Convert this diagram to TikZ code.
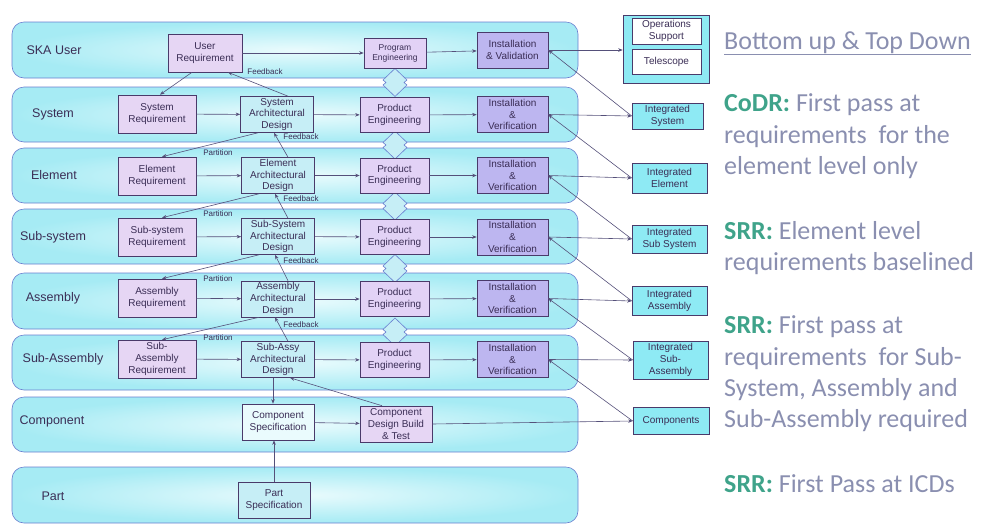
\documentclass[tikz,border=0pt]{standalone}
\usepackage{fontspec}
\setmainfont{Liberation Sans}
\newfontfamily\calfont{Carlito}
\usetikzlibrary{arrows.meta,shapes.geometric}
\definecolor{laneout}{HTML}{A6EBF4}
\definecolor{lanein}{HTML}{EAFBFD}
\definecolor{laneline}{HTML}{6A7FD0}
\definecolor{boxline}{HTML}{4A3A6A}
\definecolor{reqfill}{HTML}{E6D6F4}
\definecolor{archfill}{HTML}{C6EEF6}
\definecolor{pefill}{HTML}{E2D2F6}
\definecolor{ivfill}{HTML}{BDB6F0}
\definecolor{intfill}{HTML}{8EEAF4}
\definecolor{txt}{HTML}{3A2D55}
\definecolor{conn}{HTML}{55507A}
\definecolor{rtxt}{HTML}{8A8FB0}
\definecolor{rbold}{HTML}{3FA38A}
\begin{document}
\begin{tikzpicture}[x=1pt,y=-1pt,
  lane/.style={shading=radial,inner color=lanein,outer color=laneout,draw=laneline,line width=0.6pt,rounded corners=12pt},
  lanelabel/.style={font=\fontsize{12.5}{14}\selectfont,text=txt},
  bx/.style={draw=boxline,line width=0.6pt,align=center,text=txt,inner sep=1pt,
     font=\fontsize{10}{11.8}\selectfont},
  reqbox/.style={bx,fill=reqfill,minimum width=78pt,minimum height=38pt},
  archbox/.style={bx,fill=archfill,minimum width=73pt,minimum height=36pt},
  pebox/.style={bx,fill=pefill,minimum width=69pt,minimum height=35pt},
  ivbox/.style={bx,fill=ivfill,minimum width=71pt,minimum height=36pt},
  intbox/.style={bx,fill=intfill,minimum width=75pt},
  smalllabel/.style={font=\fontsize{8}{9}\selectfont,text=txt,inner sep=0pt},
  conline/.style={draw=conn,line width=0.6pt,-{Stealth[length=4.5pt,width=3.5pt]}},
  dia/.style={fill=archfill,draw=laneline,line width=0.6pt},
  rt/.style={anchor=base west,inner sep=0pt,font=\calfont\fontsize{26}{31}\selectfont,text=rtxt}
]
\useasboundingbox (0,0) rectangle (997,531);
% lanes
\shadedraw[lane] (12,22) rectangle (578,78);
\shadedraw[lane] (12,87) rectangle (578,142);
\shadedraw[lane] (12,148) rectangle (578,203);
\shadedraw[lane] (12,209) rectangle (578,264);
\shadedraw[lane] (12,273) rectangle (578,329);
\shadedraw[lane] (12,335) rectangle (578,390);
\shadedraw[lane] (12,397) rectangle (578,452);
\shadedraw[lane] (12,467) rectangle (578,523);
% lane labels
\node[lanelabel] (l1) at (54,50) {SKA User};
\node[lanelabel] (l2) at (53,114) {System};
\node[lanelabel] (l3) at (54,175) {Element};
\node[lanelabel] (l4) at (53,237) {Sub-system};
\node[lanelabel] (l5) at (53,298) {Assembly};
\node[lanelabel] (l6) at (63,359) {Sub-Assembly};
\node[lanelabel] (l7) at (52,421) {Component};
\node[lanelabel] (l8) at (53,496) {Part};
% diamonds
\foreach \yy in {82.5,145,206,268.5,332}{
  \draw[dia] (395,\yy) +(0,-14) -- +(12,-2.5) -- +(9,0) -- +(12,2.5) -- +(0,14) -- +(-12,2.5) -- +(-9,0) -- +(-12,-2.5) -- cycle;
}
% SKA row
\node[reqbox,minimum width=74pt] (ur) at (205,53) {User\\Requirement};
\node[pebox,minimum width=62pt,minimum height=30pt,font=\fontsize{8.5}{10}\selectfont] (pg) at (395,53) {Program\\Engineering};
\node[ivbox] (iv1) at (512.5,50) {Installation\\\& Validation};
% rows 2-6
\node[reqbox] (r2) at (157,114) {System\\Requirement};
\node[archbox] (a2) at (277,114.5) {System\\Architectural\\Design};
\node[pebox] (p2) at (394.5,115) {Product\\Engineering};
\node[ivbox] (iv2) at (512.5,114.5) {Installation\\\&\\Verification};

\node[reqbox] (r3) at (157,176) {Element\\Requirement};
\node[archbox] (a3) at (278,175.5) {Element\\Architectural\\Design};
\node[pebox] (p3) at (394.5,175.5) {Product\\Engineering};
\node[ivbox] (iv3) at (512.5,175.5) {Installation\\\&\\Verification};

\node[reqbox] (r4) at (157,237) {Sub-system\\Requirement};
\node[archbox] (a4) at (278,236.5) {Sub-System\\Architectural\\Design};
\node[pebox] (p4) at (394.5,237) {Product\\Engineering};
\node[ivbox] (iv4) at (512.5,237) {Installation\\\&\\Verification};

\node[reqbox] (r5) at (157,298) {Assembly\\Requirement};
\node[archbox] (a5) at (278,299) {Assembly\\Architectural\\Design};
\node[pebox] (p5) at (394.5,299) {Product\\Engineering};
\node[ivbox] (iv5) at (512.5,298.5) {Installation\\\&\\Verification};

\node[reqbox] (r6) at (157,359) {Sub-\\Assembly\\Requirement};
\node[archbox] (a6) at (278,359.5) {Sub-Assy\\Architectural\\Design};
\node[pebox] (p6) at (394.5,360) {Product\\Engineering};
\node[ivbox] (iv6) at (512.5,359.5) {Installation\\\&\\Verification};
% component / part
\node[bx,fill=lanein,minimum width=72pt,minimum height=36pt] (cs) at (278,422) {Component\\Specification};
\node[bx,fill=reqfill,minimum width=72pt,minimum height=36pt] (cd) at (396,424) {Component\\Design Build\\\& Test};
\node[bx,fill=archfill,minimum width=72pt,minimum height=36pt] (ps) at (274,500) {Part\\Specification};
% right boxes
\node[bx,fill=intfill,minimum width=86pt,minimum height=68pt] (ops) at (666,49) {};
\node[bx,fill=white,minimum width=69pt,minimum height=26pt] (os) at (666.5,31) {Operations\\Support};
\node[bx,fill=white,minimum width=69pt,minimum height=25pt] (tel) at (666.5,61.5) {Telescope};
\node[intbox,minimum width=71pt,minimum height=26pt] (i2) at (667.5,116) {Integrated\\System};
\node[intbox,minimum height=30pt] (i3) at (669.5,178) {Integrated\\Element};
\node[intbox,minimum height=28pt] (i4) at (669.5,239) {Integrated\\Sub System};
\node[intbox,minimum height=29pt] (i5) at (669.5,301) {Integrated\\Assembly};
\node[intbox,minimum height=38pt] (i6) at (670.5,360) {Integrated\\Sub-\\Assembly};
\node[intbox,minimum width=76pt,minimum height=27pt] (i7) at (671,421) {Components};
% horizontal flows
\draw[conline] (ur) -- (pg);
\draw[conline] (pg) -- (iv1);
\draw[conline] (iv1.east) -- (ops.west |- iv1.east);
\foreach \k in {2,3,4,5,6}{
  \draw[conline] (r\k) -- (a\k);
  \draw[conline] (a\k) -- (p\k);
  \draw[conline] (p\k) -- (iv\k);
  \draw[conline] (iv\k.east) -- (i\k.west);
}
\draw[conline] (cs) -- (cd);
\draw[conline] (cd.east) -- (i7.west);
% integration diagonals
\draw[conline] (i2.west) -- (iv1.east);
\draw[conline] (i3.west) -- (iv2.east);
\draw[conline] (i4.west) -- (iv3.east);
\draw[conline] (i5.west) -- (iv4.east);
\draw[conline] (i6.west) -- (iv5.east);
\draw[conline] (i7.west) -- (iv6.east);
% partition / feedback
\draw[conline] ([xshift=-13pt]ur.south) -- ([xshift=3pt]r2.north);
\draw[conline] ([xshift=11pt]a2.north) -- ([xshift=23pt]ur.south);
\node[smalllabel] (fb1) at (265,72) {Feedback};
\foreach \u/\l/\fy/\py in {2/3/137/153,3/4/199/214,4/5/261/279,5/6/325/338}{
  \draw[conline] ([xshift=-19pt]a\u.south) -- ([xshift=5pt]r\l.north);
  \draw[conline] ([xshift=10pt]a\l.north) -- ([xshift=-3pt]a\u.south);
  \node[smalllabel] (fb\l) at (301,\fy) {Feedback};
  \node[smalllabel] (pt\l) at (218,\py) {Partition};
}
% component links
\draw[conline] ([xshift=-5pt]a6.south) -- ([xshift=-5pt]cs.north);
\draw[conline] ([xshift=-14pt]cd.north) -- ([xshift=12pt]a6.south);
\draw[conline] (ps.north) -- (ps.north |- cs.south);
% right text
\node[rt] (t0) at (724,49) {\underline{Bottom up \& Top Down}};
\node[rt] (t1) at (724,111) {\textcolor{rbold}{\bfseries CoDR:} First pass at};
\node[rt] (t2) at (724,143) {requirements\ \ for the};
\node[rt] (t3) at (724,174) {element level only};
\node[rt] (t4) at (724,239) {\textcolor{rbold}{\bfseries SRR:} Element level};
\node[rt] (t5) at (724,270) {requirements baselined};
\node[rt] (t6) at (724,333) {\textcolor{rbold}{\bfseries SRR:} First pass at};
\node[rt] (t7) at (724,365) {requirements\ \ for Sub-};
\node[rt] (t8) at (724,396) {System, Assembly and};
\node[rt] (t9) at (724,427) {Sub-Assembly required};
\node[rt] (t10) at (724,492) {\textcolor{rbold}{\bfseries SRR:} First Pass at ICDs};
\end{tikzpicture}
\end{document}
